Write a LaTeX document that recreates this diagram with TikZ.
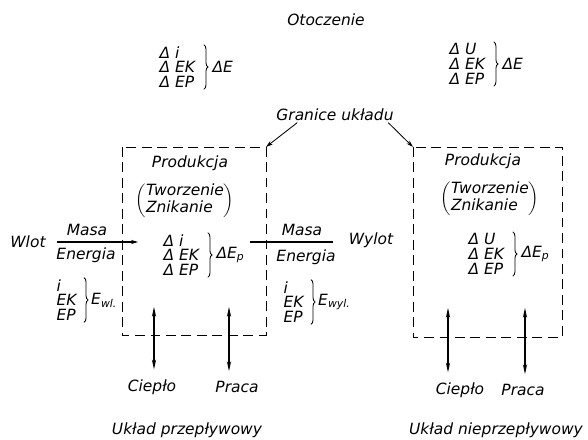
\documentclass[tikz,border=0pt]{standalone}
\usepackage{fontspec}
\setmainfont{DejaVu Sans}
\usetikzlibrary{positioning, decorations.pathreplacing, arrows.meta}

\tikzset{
  lbl/.style={font=\fontsize{11}{12}\selectfont\itshape, inner sep=1pt},
  grp/.style={font=\fontsize{11}{10.5}\selectfont\itshape, inner sep=1pt, align=left},
  bnd/.style={line width=0.7pt, dash pattern=on 7pt off 4pt},
  brc/.style={decorate, decoration={brace, amplitude=3pt}, line width=0.6pt},
  dbl/.style={{Stealth[length=7pt,width=3pt]}-{Stealth[length=7pt,width=3pt]}, line width=0.8pt},
  lead/.style={-{Stealth[length=5pt,width=3pt]}, line width=0.6pt},
  flow/.style={line width=1pt},
}

\begin{document}
\begin{tikzpicture}[x=0.025cm, y=-0.025cm]
  \useasboundingbox (0,0) rectangle (588,440);
  % surroundings
  \node[lbl] (otocz) at (326,20) {Otoczenie};
  \node[grp, anchor=west] (gTopL) at (158,67) {Δ i\\Δ EK\\Δ EP};
  \draw[brc] ([xshift=5pt]gTopL.north east) -- ([xshift=5pt]gTopL.south east);
  \node[lbl, right=10pt of gTopL] (eTopL) {ΔE};
  \node[grp, anchor=west] (gTopR) at (448,64) {Δ U\\Δ EK\\Δ EP};
  \draw[brc] ([xshift=5pt]gTopR.north east) -- ([xshift=5pt]gTopR.south east);
  \node[lbl, right=10pt of gTopR] (eTopR) {ΔE};
  % system boundaries
  \node[lbl] (gran) at (335,115) {Granice układu};
  \coordinate (bxL) at (266,147);
  \coordinate (bxR) at (413,147);
  \draw[bnd] (122,147) rectangle (266,335);
  \draw[bnd] (413,147) rectangle (562,337);
  \draw[lead] ([xshift=16pt]gran.south west) -- (bxL);
  \draw[lead] ([xshift=-5pt]gran.south east) -- (bxR);
  % flow system
  \node[lbl] (prodL) at (190,163) {Produkcja};
  \node[lbl, inner sep=0pt] (twL) at (185,201) {$\left(\begin{tabular}{@{}l@{}}Tworzenie\\Znikanie\end{tabular}\right)$};
  \node[grp, anchor=west] (gInL) at (162,255) {Δ i\\Δ EK\\Δ EP};
  \draw[brc] ([xshift=5pt]gInL.north east) -- ([xshift=5pt]gInL.south east);
  \node[lbl, right=10pt of gInL] (epL) {ΔE\textsubscript{p}};
  % inlet
  \node[lbl] (wlot) at (28,242) {Wlot};
  \coordinate (inA) at (57,242);
  \coordinate (inB) at (138,242);
  \draw[flow, -{Stealth[length=5pt,width=3pt]}] (inA) -- (inB);
  \node[lbl] (masaIn) at (87,230) {Masa};
  \node[lbl] (enIn) at (86,255) {Energia};
  \node[grp, anchor=west] (gWl) at (55,300) {i\\EK\\EP};
  \draw[brc] ([xshift=4pt]gWl.north east) -- ([xshift=4pt]gWl.south east);
  \node[lbl, right=8pt of gWl] (eWl) {E\textsubscript{wl.}};
  % outlet
  \coordinate (outA) at (250,242);
  \coordinate (outB) at (333,242);
  \draw[flow] (outA) -- (outB);
  \node[lbl] (masaOut) at (302,230) {Masa};
  \node[lbl] (enOut) at (306,257) {Energia};
  \node[lbl] (wylot) at (371,240) {Wylot};
  \node[grp, anchor=west] (gWyl) at (282,302) {i\\EK\\EP};
  \draw[brc] ([xshift=4pt]gWyl.north east) -- ([xshift=4pt]gWyl.south east);
  \node[lbl, right=8pt of gWyl] (eWyl) {E\textsubscript{wyl.}};
  % non-flow system
  \node[lbl] (prodR) at (483,161) {Produkcja};
  \node[lbl, inner sep=0pt] (twR) at (490,199) {$\left(\begin{tabular}{@{}l@{}}Tworzenie\\Znikanie\end{tabular}\right)$};
  \node[grp, anchor=west] (gInR) at (467,254) {Δ U\\Δ EK\\Δ EP};
  \draw[brc] ([xshift=5pt]gInR.north east) -- ([xshift=5pt]gInR.south east);
  \node[lbl, right=10pt of gInR] (epR) {ΔE\textsubscript{p}};
  % heat and work
  \foreach \nm/\ax/\ay/\lx/\ly/\txt in {ciepL/154/307/152/387/Ciepło, pracL/229/307/237/387/Praca,
      ciepR/448/308/460/390/Ciepło, pracR/525/308/523/390/Praca} {
    \node[lbl] (\nm) at (\lx,\ly) {\txt};
    \coordinate (\nm top) at (\ax,\ay);
    \draw[dbl, shorten >=6pt] (\nm top) -- (\nm top |- \nm.north);
  }
  \node[lbl] (ukL) at (187,430) {Układ przepływowy};
  \node[lbl] (ukR) at (496,430) {Układ nieprzepływowy};
\end{tikzpicture}
\end{document}
